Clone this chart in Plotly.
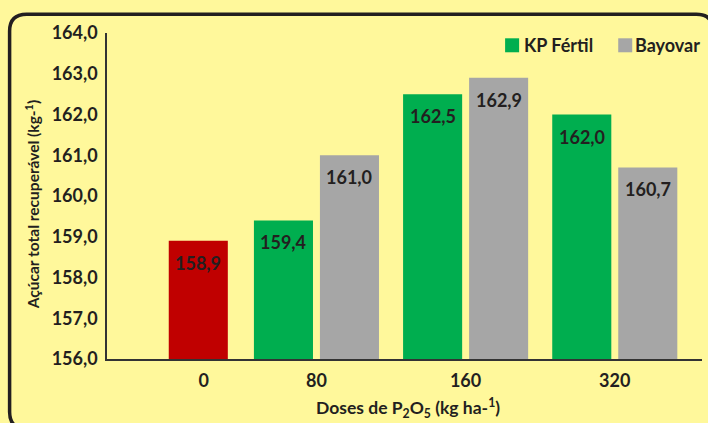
import plotly.graph_objects as go

# ---- data ----
categories = ["0", "80", "160", "320"]
control_value = [158.9]                 # dose 0
kp_fertil = [159.4, 162.5, 162.0]       # doses 80, 160, 320
bayovar = [161.0, 162.9, 160.7]         # doses 80, 160, 320
y_ticks = [156, 157, 158, 159, 160, 161, 162, 163, 164]

# ---- layout constants ----
W, H = 708, 423
ML, MR, MT, MB = 107.3, 6.3, 32.7, 64
PW, PH = W - ML - MR, H - MT - MB

BG = "#FFF89B"
INK = "#231F20"
RED = "#C00000"
GREEN = "#00AE4F"
GRAY = "#A6A6A6"
FONT = "Lato"

cat_pos = [0.245, 1, 2, 3]
bar_w = 0.396
ctrl_off = -0.235
green_off = -0.419
gray_off = 0.0235


def px_x(px):
    return (px - ML) / PW


def px_y(py):
    return (H - MB - py) / PH


def fmt(v):
    return f"{v:.1f}".replace(".", ",")


fig = go.Figure()

fig.add_bar(x=[cat_pos[0]], y=control_value, width=bar_w, offset=ctrl_off,
            marker=dict(color=RED, line=dict(width=0)), showlegend=False,
            hoverinfo="skip")
fig.add_bar(x=cat_pos[1:], y=kp_fertil, width=bar_w, offset=green_off,
            marker=dict(color=GREEN, line=dict(width=0)), name="KP Fértil",
            showlegend=False, hoverinfo="skip")
fig.add_bar(x=cat_pos[1:], y=bayovar, width=bar_w, offset=gray_off,
            marker=dict(color=GRAY, line=dict(width=0)), name="Bayovar",
            showlegend=False, hoverinfo="skip")

annotations = []
label_font = dict(family=FONT, size=18, color=INK, weight=700)


def bar_label(xc, v):
    annotations.append(dict(x=xc, y=v, xref="x", yref="y", text=fmt(v),
                            showarrow=False, yanchor="top", xanchor="center",
                            yshift=-9, font=label_font))


bar_label(cat_pos[0] + ctrl_off + bar_w / 2, control_value[0])
for p, v in zip(cat_pos[1:], kp_fertil):
    bar_label(p + green_off + bar_w / 2, v)
for p, v in zip(cat_pos[1:], bayovar):
    bar_label(p + gray_off + bar_w / 2, v)

# axis titles
annotations.append(dict(x=px_x(32.5), y=px_y(205), xref="paper", yref="paper",
                        text="Açúcar total recuperável (kg-<sup>1</sup>)", textangle=-90,
                        showarrow=False, xanchor="center", yanchor="middle",
                        font=dict(family=FONT, size=15.5, color=INK, weight=700)))
annotations.append(dict(x=px_x(408), y=px_y(408), xref="paper", yref="paper",
                        text="Doses de P<sub>2</sub>O<sub>5</sub> (kg ha-<sup>1</sup>)",
                        showarrow=False, xanchor="center", yanchor="middle",
                        font=dict(family=FONT, size=17.5, color=INK, weight=700)))

# legend
shapes = []
legend_items = [("KP Fértil", GREEN, 505, 522), ("Bayovar", GRAY, 618, 633)]
for name, col, sx, tx in legend_items:
    shapes.append(dict(type="rect", xref="paper", yref="paper",
                       x0=px_x(sx), x1=px_x(sx + 14), y0=px_y(52), y1=px_y(38),
                       fillcolor=col, line=dict(width=0)))
    annotations.append(dict(x=px_x(tx), y=px_y(45), xref="paper", yref="paper",
                            text=name, showarrow=False, xanchor="left", yanchor="middle",
                            font=dict(family=FONT, size=18, color=INK, weight=700)))

# rounded frame around the chart
L, T, R, B, rad = 10, 14, 713, 429, 17
path = (
    f"M {px_x(L + rad)},{px_y(T)} L {px_x(R - rad)},{px_y(T)} "
    f"Q {px_x(R)},{px_y(T)} {px_x(R)},{px_y(T + rad)} "
    f"L {px_x(R)},{px_y(B - rad)} Q {px_x(R)},{px_y(B)} {px_x(R - rad)},{px_y(B)} "
    f"L {px_x(L + rad)},{px_y(B)} Q {px_x(L)},{px_y(B)} {px_x(L)},{px_y(B - rad)} "
    f"L {px_x(L)},{px_y(T + rad)} Q {px_x(L)},{px_y(T)} {px_x(L + rad)},{px_y(T)} Z"
)
shapes.append(dict(type="path", path=path, xref="paper", yref="paper",
                   line=dict(color=INK, width=3.5), fillcolor="rgba(0,0,0,0)",
                   layer="below"))

fig.update_layout(
    width=W, height=H,
    margin=dict(l=ML, r=MR, t=MT, b=MB, pad=0),
    paper_bgcolor=BG, plot_bgcolor=BG,
    barmode="overlay",
    showlegend=False,
    annotations=annotations,
    shapes=shapes,
    xaxis=dict(range=[-0.404, 3.585], tickmode="array", tickvals=cat_pos,
               ticktext=categories, showgrid=False, zeroline=False,
               showline=True, linecolor="#333333", linewidth=1.5, ticks="",
               ticklabelstandoff=5,
               tickfont=dict(family=FONT, size=18, color=INK, weight=700)),
    yaxis=dict(range=[156, 164], tickmode="array", tickvals=y_ticks,
               ticktext=[fmt(t) for t in y_ticks], showgrid=False, zeroline=False,
               showline=True, linecolor="#333333", linewidth=1.5, ticks="",
               ticklabelstandoff=4,
               tickfont=dict(family=FONT, size=18, color=INK, weight=700)),
)

fig.write_html("out.html")
